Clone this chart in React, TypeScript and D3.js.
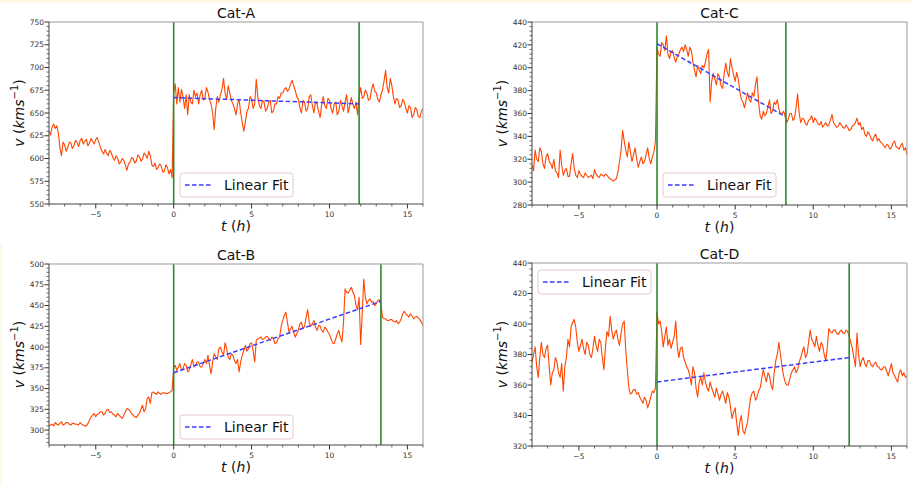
import React from "react";
import * as d3 from "d3";

// ---------- DATA ----------
const timeStart = -8;
const timeStep = 0.1;
const timesHours: number[] = d3.range(241).map((i) => +(timeStart + i * timeStep).toFixed(2));

const speedCatA = [
  630, 626, 635, 638, 633, 636, 628, 612, 603, 618, 615, 608, 612, 618, 617, 611, 614, 620, 618, 613,
  620, 622, 616, 619, 621, 614, 617, 622, 619, 616, 621, 623, 618, 612, 608, 605, 610, 606, 603, 609,
  606, 601, 598, 603, 600, 594, 596, 600, 598, 593, 587, 594, 596, 601, 600, 595, 597, 604, 602, 597,
  599, 606, 604, 600, 608, 603, 593, 591, 595, 588, 590, 594, 592, 585, 586, 593, 590, 583, 588, 579,
  672, 682, 660, 678, 662, 676, 668, 655, 670, 648, 670, 662, 660, 675, 668, 672, 660, 670, 675, 664,
  666, 678, 673, 665, 660, 650, 632, 655, 668, 662, 670, 676, 688, 672, 665, 680, 672, 664, 660, 655,
  648, 660, 665, 650, 640, 630, 640, 652, 655, 668, 665, 655, 660, 687, 668, 658, 655, 664, 662, 652,
  655, 662, 664, 650, 652, 660, 660, 668, 666, 672, 672, 676, 678, 674, 676, 682, 686, 680, 675, 668,
  665, 656, 650, 664, 662, 652, 655, 668, 670, 658, 650, 662, 660, 652, 645, 660, 668, 658, 655, 666,
  664, 655, 650, 660, 662, 648, 652, 664, 658, 652, 662, 670, 650, 658, 667, 660, 655, 662, 648, 668,
  678, 666, 668, 675, 672, 664, 665, 676, 682, 674, 672, 665, 662, 670, 675, 685, 697, 678, 672, 688,
  680, 668, 660, 666, 664, 656, 658, 665, 662, 655, 650, 658, 656, 645, 648, 656, 654, 646, 645, 652,
  655,
];

const speedCatC = [
  315, 310, 328, 320, 318, 330, 327, 316, 312, 322, 325, 318, 316, 312, 320, 310, 308, 304, 328, 315,
  306, 310, 312, 305, 305, 316, 325, 312, 306, 304, 310, 307, 305, 304, 308, 306, 304, 305, 306, 303,
  311, 307, 305, 304, 307, 306, 305, 307, 306, 304, 303, 302, 301, 302, 303, 309, 318, 328, 345, 336,
  328, 322, 335, 326, 318, 324, 330, 320, 313, 318, 322, 316, 318, 324, 330, 321, 316, 322, 326, 336,
  418, 412, 410, 422, 420, 415, 428, 412, 408, 414, 415, 409, 405, 410, 412, 416, 418, 414, 420, 416,
  410, 418, 415, 405, 398, 392, 402, 398, 395, 402, 400, 405, 412, 416, 370, 388, 395, 390, 385, 395,
  392, 384, 382, 395, 404, 396, 392, 408, 400, 394, 388, 396, 390, 380, 372, 370, 365, 372, 378, 372,
  370, 378, 375, 385, 392, 370, 358, 355, 362, 358, 360, 366, 372, 360, 362, 370, 368, 372, 364, 360,
  360, 362, 358, 352, 355, 360, 360, 354, 356, 365, 377, 360, 352, 356, 355, 351, 350, 354, 355, 358,
  352, 356, 354, 351, 350, 353, 348, 350, 352, 349, 350, 354, 359, 352, 350, 348, 349, 352, 350, 348,
  347, 350, 348, 345, 346, 349, 350, 352, 356, 350, 352, 346, 348, 342, 340, 344, 342, 338, 336, 340,
  342, 336, 338, 335, 334, 332, 330, 333, 332, 329, 330, 334, 336, 331, 330, 329, 332, 334, 328, 330,
  324,
];

const speedCatB = [
  305, 306, 307, 305, 309, 307, 306, 308, 310, 306, 307, 309, 309, 307, 306, 308, 308, 307, 307, 306,
  309, 307, 306, 305, 305, 308, 312, 316, 318, 320, 316, 319, 320, 322, 322, 318, 320, 324, 325, 321,
  322, 319, 318, 316, 320, 318, 316, 314, 318, 322, 326, 325, 323, 320, 318, 316, 315, 318, 320, 325,
  330, 322, 326, 338, 340, 332, 345, 346, 344, 343, 346, 344, 343, 345, 345, 344, 344, 345, 346, 348,
  375, 378, 372, 376, 380, 372, 374, 380, 378, 370, 372, 378, 385, 376, 378, 382, 382, 376, 376, 380,
  385, 380, 390, 378, 368, 382, 392, 388, 385, 398, 400, 394, 390, 405, 398, 388, 385, 392, 390, 384,
  380, 385, 370, 382, 390, 396, 402, 395, 398, 404, 405, 395, 382, 408, 410, 411, 412, 409, 410, 412,
  413, 410, 408, 412, 410, 404, 405, 410, 412, 425, 432, 438, 442, 430, 418, 422, 425, 418, 412, 416,
  420, 428, 430, 422, 425, 436, 445, 430, 425, 428, 432, 424, 420, 426, 425, 420, 418, 424, 422, 418,
  415, 410, 405, 404, 410, 416, 420, 412, 406, 430, 470, 466, 465, 468, 472, 466, 462, 450, 445, 460,
  403, 440, 482, 460, 452, 456, 458, 454, 455, 450, 452, 456, 457, 452, 436, 434, 434, 432, 432, 433,
  433, 431, 430, 432, 428, 430, 434, 440, 443, 440, 438, 436, 440, 437, 434, 436, 437, 435, 433, 430,
  426,
];

const speedCatD = [
  375, 380, 385, 372, 365, 378, 388, 380, 378, 384, 386, 372, 360, 368, 370, 378, 375, 368, 365, 374,
  356, 372, 378, 390, 385, 398, 401, 403, 398, 388, 382, 386, 390, 384, 380, 388, 386, 380, 378, 384,
  392, 386, 382, 390, 388, 378, 370, 385, 395, 392, 405, 396, 390, 394, 396, 390, 386, 394, 400, 402,
  383, 370, 358, 354, 355, 357, 357, 354, 355, 352, 350, 348, 352, 350, 345, 348, 352, 356, 355, 358,
  408, 400, 402, 395, 385, 392, 398, 386, 390, 384, 388, 392, 402, 385, 378, 384, 385, 378, 375, 372,
  370, 366, 360, 372, 368, 358, 352, 362, 365, 360, 368, 362, 358, 356, 362, 358, 355, 352, 358, 354,
  350, 354, 356, 352, 348, 355, 352, 346, 338, 342, 345, 335, 327, 336, 340, 330, 328, 332, 336, 345,
  352, 355, 356, 350, 352, 356, 358, 364, 370, 366, 362, 368, 366, 360, 357, 368, 376, 380, 388, 380,
  372, 366, 362, 360, 360, 364, 368, 370, 372, 368, 370, 375, 378, 382, 385, 378, 380, 388, 396, 390,
  388, 385, 392, 386, 382, 388, 386, 380, 376, 385, 397, 395, 394, 396, 396, 394, 393, 395, 396, 394,
  394, 396, 395, 392, 388, 384, 378, 372, 394, 380, 372, 376, 378, 374, 372, 376, 376, 373, 372, 374,
  375, 372, 372, 370, 370, 372, 372, 369, 366, 370, 374, 368, 366, 364, 362, 368, 370, 366, 368, 365,
  366,
];

const panelTitles = ["Cat-A", "Cat-C", "Cat-B", "Cat-D"];
const panelSeries = [speedCatA, speedCatC, speedCatB, speedCatD];
const boundaryEnd = [11.9, 8.25, 13.3, 12.3];
const fitStartValue = [667, 421, 369, 362];
const fitEndValue = [660, 357, 455, 378];
const yDomains: [number, number][] = [[550, 750], [280, 440], [282, 500], [320, 440]];
const yMajorTicks = [
  [550, 575, 600, 625, 650, 675, 700, 725, 750],
  [280, 300, 320, 340, 360, 380, 400, 420, 440],
  [300, 325, 350, 375, 400, 425, 450, 475, 500],
  [320, 340, 360, 380, 400, 420, 440],
];
const yMinorStep = [5, 4, 5, 4];
const xMajorTicks = [-5, 0, 5, 10, 15];
const xDomain: [number, number] = [-8, 16];
const legendLabel = "Linear Fit";

// ---------- LAYOUT / STYLE ----------
const layouts = [
  { left: 49, top: 22, width: 374, height: 182, legend: { x: 180, y: 173 } },
  { left: 532, top: 22, width: 375, height: 183, legend: { x: 663, y: 173 } },
  { left: 49, top: 264, width: 374, height: 181, legend: { x: 180, y: 415 } },
  { left: 532, top: 263, width: 375, height: 183, legend: { x: 538, y: 270 } },
];
const FONT = "DejaVu Sans, Verdana, sans-serif";
const SERIES_COLOR = "#ff4500";
const GREEN = "#2b8a2b";
const BLUE = "#3b3bff";
const TICK_COLOR = "#333";

function Panel({ idx }: { idx: number }) {
  const L = layouts[idx];
  const values = panelSeries[idx];
  const x = d3.scaleLinear().domain(xDomain).range([L.left, L.left + L.width]);
  const y = d3.scaleLinear().domain(yDomains[idx]).range([L.top + L.height, L.top]);
  const line = d3
    .line<number>()
    .x((_, i) => x(timesHours[i]))
    .y((d) => y(d));
  const fitLine = d3
    .line<[number, number]>()
    .x((d) => x(d[0]))
    .y((d) => y(d[1]));
  const [y0, y1] = yDomains[idx];
  const minorStep = yMinorStep[idx];
  const yMinor = d3
    .range(Math.ceil(y0 / minorStep) * minorStep, y1 + 0.001, minorStep)
    .filter((v) => !yMajorTicks[idx].includes(v));
  const xMinor = d3.range(-8, 16.001, 1).filter((v) => !xMajorTicks.includes(v));
  const bottom = L.top + L.height;
  const right = L.left + L.width;
  const clipId = `clip-${idx}`;
  const cx = L.left + L.width / 2;
  const cy = L.top + L.height / 2;
  const lg = L.legend;
  return (
    <g>
      <defs>
        <clipPath id={clipId}>
          <rect x={L.left} y={L.top} width={L.width} height={L.height} />
        </clipPath>
      </defs>
      <g clipPath={`url(#${clipId})`}>
        <path d={line(values) || ""} fill="none" stroke={SERIES_COLOR} strokeWidth={1.1} strokeLinejoin="round" />
        <line x1={x(0)} x2={x(0)} y1={L.top} y2={bottom} stroke={GREEN} strokeWidth={1.6} />
        <line x1={x(boundaryEnd[idx])} x2={x(boundaryEnd[idx])} y1={L.top} y2={bottom} stroke={GREEN} strokeWidth={1.6} />
        <path
          d={fitLine([[0, fitStartValue[idx]], [boundaryEnd[idx], fitEndValue[idx]]]) || ""}
          fill="none"
          stroke={BLUE}
          strokeWidth={1.5}
          strokeDasharray="4.5,2.5"
        />
      </g>
      {/* spines */}
      <line x1={L.left} x2={right} y1={L.top} y2={L.top} stroke="#999" strokeWidth={1} />
      <line x1={right} x2={right} y1={L.top} y2={bottom} stroke="#999" strokeWidth={1} />
      <line x1={L.left} x2={L.left} y1={L.top} y2={bottom} stroke="#444" strokeWidth={1} />
      <line x1={L.left} x2={right} y1={bottom} y2={bottom} stroke="#444" strokeWidth={1} />
      {/* y ticks */}
      {yMajorTicks[idx].map((v) => (
        <g key={`ym${v}`}>
          <line x1={L.left - 4.5} x2={L.left} y1={y(v)} y2={y(v)} stroke="#333" strokeWidth={1} />
          <text x={L.left - 5} y={y(v)} dy="0.35em" textAnchor="end" fontSize={7.5} fill={TICK_COLOR} fontFamily={FONT}>
            {v}
          </text>
        </g>
      ))}
      {yMinor.map((v) => (
        <line key={`yn${v}`} x1={L.left - 2.5} x2={L.left} y1={y(v)} y2={y(v)} stroke="#444" strokeWidth={0.8} />
      ))}
      {/* x ticks */}
      {xMajorTicks.map((v) => (
        <g key={`xm${v}`}>
          <line x1={x(v)} x2={x(v)} y1={bottom} y2={bottom + 4.5} stroke="#333" strokeWidth={1} />
          <text x={x(v)} y={bottom + 13} textAnchor="middle" fontSize={7.5} fill={TICK_COLOR} fontFamily={FONT}>
            {v < 0 ? `\u2212${Math.abs(v)}` : v}
          </text>
        </g>
      ))}
      {xMinor.map((v) => (
        <line key={`xn${v}`} x1={x(v)} x2={x(v)} y1={bottom} y2={bottom + 2.5} stroke="#444" strokeWidth={0.8} />
      ))}
      {/* title */}
      <text x={cx} y={L.top - 4} textAnchor="middle" fontSize={14} fontFamily={FONT} fill="#111">
        {panelTitles[idx]}
      </text>
      {/* x label */}
      <text x={cx} y={bottom + 27} textAnchor="middle" fontSize={14} fontFamily={FONT} fill="#111">
        <tspan fontStyle="italic">t</tspan>
        <tspan> (</tspan>
        <tspan fontStyle="italic">h</tspan>
        <tspan>)</tspan>
      </text>
      {/* y label */}
      <text
        transform={`translate(${L.left - 25},${cy}) rotate(-90)`}
        textAnchor="middle"
        fontSize={14}
        fontFamily={FONT}
        fill="#111"
      >
        <tspan fontStyle="italic">v</tspan>
        <tspan> (</tspan>
        <tspan fontStyle="italic">kms</tspan>
        <tspan fontSize={10} dy={-6}>{"\u22121"}</tspan>
        <tspan dy={6}>)</tspan>
      </text>
      {/* legend */}
      <g>
        <rect x={lg.x} y={lg.y} width={113} height={24} rx={3} fill="#fff" fillOpacity={0.85} stroke="#e6caca" strokeWidth={1} />
        <line x1={lg.x + 5} x2={lg.x + 31} y1={lg.y + 12} y2={lg.y + 12} stroke={BLUE} strokeWidth={1.5} strokeDasharray="4.5,2.5" />
        <text x={lg.x + 44} y={lg.y + 17} fontSize={14} fontFamily={FONT} fill="#111">
          {legendLabel}
        </text>
      </g>
    </g>
  );
}

export default function App() {
  return (
    <svg
      width={911}
      height={486}
      style={{ position: "absolute", left: 0, top: 0, background: "#fff" }}
    >
      <rect x={0} y={0} width={911} height={486} fill="#fff" />
      <rect x={0} y={0} width={911} height={3} fill="#fdf7e6" />
      <rect x={0} y={243} width={2} height={243} fill="#fdf7e6" />
      {[0, 1, 2, 3].map((i) => (
        <Panel key={i} idx={i} />
      ))}
    </svg>
  );
}
